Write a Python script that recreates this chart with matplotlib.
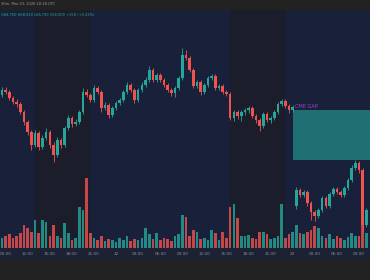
import numpy as np
import matplotlib
matplotlib.use("Agg")
import matplotlib.pyplot as plt
from matplotlib.patches import Rectangle

# 30m candles, Mar 21 08:30 -> Mar 23 10:00 UTC
opens = [70050, 70100, 70080, 70020, 69980, 69960, 69880, 69780, 69680, 69550,
         69670, 69530, 69620, 69680, 69550, 69450, 69600, 69550, 69720, 69820,
         69760, 69780, 69880, 70080, 70050, 70000, 70120, 70080, 69920, 69950,
         69850, 69920, 69970, 70000, 70080, 70150, 70100, 70000, 70100, 70150,
         70200, 70300, 70200, 70250, 70200, 70150, 70100, 70070, 70120, 70220,
         70450, 70420, 70300, 70140, 70180, 70080, 70150, 70220, 70240, 70120,
         70140, 70080, 70060, 69820, 69880, 69840, 69880, 69900, 69920, 69840,
         69800, 69740, 69860, 69800, 69820, 69880, 69960, 69990, 69940, 69900,
         68940, 69100, 69050, 69080, 68970, 68880, 68840, 68900, 69020, 68940,
         69060, 69110, 69080, 69050, 69120, 69200, 69320, 69370, 69300, 68750]
closes = [70100, 70080, 70020, 69980, 69960, 69880, 69780, 69680, 69550, 69670,
          69530, 69620, 69680, 69550, 69450, 69600, 69550, 69720, 69820, 69760,
          69780, 69880, 70080, 70050, 70000, 70120, 70080, 69920, 69950, 69850,
          69920, 69970, 70000, 70080, 70150, 70100, 70000, 70100, 70150, 70200,
          70300, 70200, 70250, 70200, 70150, 70100, 70070, 70120, 70220, 70450,
          70420, 70300, 70140, 70180, 70080, 70150, 70220, 70240, 70120, 70140,
          70080, 70060, 69820, 69880, 69840, 69880, 69900, 69920, 69840, 69800,
          69740, 69860, 69800, 69820, 69880, 69960, 69990, 69940, 69900, 69930,
          69100, 69050, 69080, 68970, 68880, 68840, 68900, 69020, 68940, 69060,
          69110, 69080, 69050, 69120, 69200, 69320, 69370, 69300, 68750, 68900]
highs = [70130, 70130, 70100, 70040, 70010, 69980, 69900, 69800, 69700, 69700,
         69690, 69650, 69720, 69700, 69580, 69630, 69620, 69740, 69850, 69840,
         69810, 69900, 70120, 70110, 70070, 70150, 70140, 70100, 69980, 69970,
         69940, 69990, 70020, 70100, 70180, 70170, 70120, 70120, 70180, 70230,
         70340, 70320, 70270, 70270, 70220, 70170, 70120, 70140, 70240, 70520,
         70500, 70440, 70320, 70200, 70200, 70170, 70240, 70260, 70260, 70160,
         70160, 70100, 70080, 69900, 69900, 69900, 69920, 69940, 69940, 69860,
         69820, 69880, 69880, 69840, 69900, 69980, 70010, 70010, 69960, 69950,
         69130, 69120, 69100, 69100, 68990, 68900, 68920, 69040, 69040, 69080,
         69130, 69130, 69100, 69140, 69220, 69350, 69400, 69390, 69320, 68920]
lows = [70030, 70060, 70000, 69960, 69930, 69860, 69750, 69650, 69500, 69530,
        69500, 69510, 69600, 69520, 69380, 69430, 69520, 69530, 69700, 69730,
        69740, 69760, 69860, 70030, 69980, 69980, 70060, 69880, 69900, 69820,
        69830, 69900, 69950, 69980, 70060, 70080, 69970, 69980, 70080, 70130,
        70180, 70180, 70180, 70180, 70130, 70080, 70040, 70030, 70100, 70200,
        70400, 70280, 70120, 70120, 70050, 70060, 70130, 70200, 70100, 70100,
        70060, 70040, 69800, 69790, 69810, 69790, 69850, 69870, 69820, 69770,
        69690, 69720, 69780, 69770, 69800, 69860, 69940, 69920, 69870, 69880,
        68910, 69030, 69030, 68940, 68800, 68790, 68820, 68880, 68920, 68920,
        69040, 69060, 69030, 69030, 69100, 69180, 69300, 69270, 68680, 68730]
volumes = [100, 120, 140, 100, 120, 150, 230, 200, 160, 280,
           150, 280, 260, 120, 230, 120, 100, 250, 150, 80,
           100, 410, 380, 700, 150, 100, 80, 120, 70, 90,
           80, 60, 100, 80, 120, 70, 90, 80, 100, 200,
           140, 90, 150, 80, 100, 90, 70, 120, 140, 330,
           310, 120, 180, 160, 90, 100, 80, 180, 150, 80,
           160, 100, 410, 440, 300, 120, 120, 130, 100, 90,
           160, 160, 140, 90, 100, 120, 440, 100, 140, 160,
           230, 150, 140, 160, 180, 220, 200, 120, 100, 140,
           90, 120, 100, 80, 110, 150, 120, 120, 350, 150]

tick_pos = [1, 7, 13, 19, 25, 31, 37, 43, 49, 55, 61, 67, 73, 79, 85, 91, 97]
tick_labels = ["09:00", "12:00", "15:00", "18:00", "21:00", "22", "03:00", "06:00",
               "09:00", "12:00", "15:00", "18:00", "21:00", "23", "03:00", "06:00", "09:00"]
session_spans = [(8.95, 23.9), (62.0, 76.9)]
gap_start, gap_top, gap_bottom = 79.1, 69900, 69400

TEAL = "#26a69a"
RED = "#ef5350"
NAVY = "#19213a"
SHADE = "#1c1d2a"

o = np.array(opens)
c = np.array(closes)
idx = np.arange(len(o))
cols = np.where(c >= o, TEAL, RED)

fig = plt.figure(figsize=(3.7, 2.8), dpi=100, facecolor="#222222")
fig.add_artist(Rectangle((0, 21 / 280), 1, 11 / 280, transform=fig.transFigure,
                         color="#1c2133", zorder=0))

# volume underneath, price on a twin axis
ax_v = fig.add_axes([0, 32 / 280, 1, 238 / 280])
ax_v.set_facecolor(NAVY)
for a, b in session_spans:
    ax_v.axvspan(a, b, color=SHADE, lw=0, zorder=0)
ax_v.bar(idx, volumes, width=0.72, color=cols, alpha=0.8, lw=0, zorder=2)
ax_v.set_ylim(0, 2380)
ax_v.set_xlim(-0.54, 100)
ax_v.set_yticks([])
ax_v.set_xticks(tick_pos)
ax_v.set_xticklabels(tick_labels, fontsize=3, color="#8b8f9a")
ax_v.tick_params(axis="x", length=0, pad=3)
for s in ax_v.spines.values():
    s.set_visible(False)

ax = ax_v.twinx()
ax.patch.set_visible(False)
ax.set_ylim(68520, 70900)
ax.set_yticks([])
for s in ax.spines.values():
    s.set_visible(False)

ax.add_patch(Rectangle((gap_start, gap_bottom), 30, gap_top - gap_bottom,
                       color=TEAL, alpha=0.6, lw=0, zorder=1))
ax.text(gap_start + 0.4, 69930, "CME GAP", color="#a040d0", fontsize=3.6,
        va="center", ha="left", zorder=4)

ax.vlines(idx, lows, highs, colors=cols, linewidth=0.6, zorder=3)
body = np.maximum(np.abs(c - o), 8)
ax.bar(idx, body, bottom=np.minimum(o, c), width=0.72, color=cols, lw=0, zorder=3)

fig.text(0.002, 1 - 4 / 280, "30m, Mar 23, 2026 10:18 UTC", fontsize=2.6,
         color="#9a9a9a", va="center", ha="left")
fig.text(0.002, 1 - 15 / 280, "O68,750 H68,920 L68,730 C68,900 +150 (+0.22%)",
         fontsize=2.6, color=TEAL, va="center", ha="left")

fig.savefig("out.png", dpi=100, facecolor=fig.get_facecolor())
